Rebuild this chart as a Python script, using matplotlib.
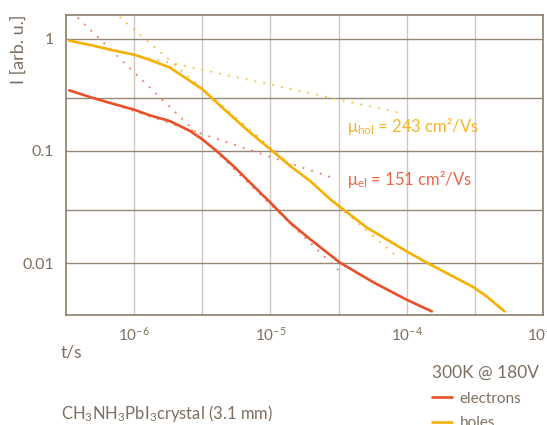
import numpy as np
import matplotlib.pyplot as plt

# Time-of-flight transient current, CH3NH3PbI3 crystal, log-log.

plt.rcParams['font.family'] = ['Lato', 'DejaVu Sans']
plt.rcParams['mathtext.fontset'] = 'custom'
plt.rcParams['mathtext.rm'] = 'Lato'
plt.rcParams['mathtext.it'] = 'Lato:italic'
plt.rcParams['mathtext.bf'] = 'Lato:bold'

# measured curves (t in s, I in arb. u.)
t_holes = [3.34e-7, 5.03e-7, 7.02e-7, 1.0e-6, 1.304e-6, 1.83e-6, 2.568e-6, 3.162e-6,
           4.035e-6, 5.343e-6, 7.09e-6, 1.0e-5, 1.396e-5, 1.958e-5, 2.748e-5,
           5.10e-5, 1.0e-4, 1.40e-4, 3.05e-4, 3.86e-4, 5.22e-4]
i_holes = [0.966, 0.871, 0.791, 0.724, 0.650, 0.555, 0.422, 0.356,
           0.271, 0.199, 0.146, 0.1035, 0.0735, 0.0540, 0.0370,
           0.0207, 0.0127, 0.0101, 0.00614, 0.00503, 0.00370]

t_el = [3.34e-7, 5.0e-7, 7.0e-7, 1.0e-6, 1.304e-6, 1.83e-6, 2.568e-6, 3.162e-6,
        4.035e-6, 5.343e-6, 7.09e-6, 1.0e-5, 1.396e-5, 1.958e-5, 3.23e-5, 5.69e-5,
        1.0e-4, 1.53e-4]
i_el = [0.348, 0.297, 0.264, 0.234, 0.208, 0.185, 0.151, 0.127,
        0.100, 0.0735, 0.0522, 0.0346, 0.0229, 0.0163, 0.0101, 0.00673,
        0.0047, 0.0037]

# tangent fits (start / end points)
t_hol_fast = [7.80e-7, 8.89e-5]
i_hol_fast = [1.57, 0.01086]
t_hol_slow = [3.34e-7, 8.59e-5]
i_hol_slow = [0.966, 0.221]
t_el_fast = [3.85e-7, 3.23e-5]
i_el_fast = [1.55, 0.0084]
t_el_slow = [5.36e-7, 3.05e-5]
i_el_slow = [0.293, 0.0562]

x_ticks = [1e-6, 1e-5, 1e-4, 1e-3]
x_labels = [r'$\mathregular{10^{-6}}$', r'$\mathregular{10^{-5}}$',
            r'$\mathregular{10^{-4}}$', r'$\mathregular{10^{-3}}$']
y_ticks = [1, 0.1, 0.01]
y_labels = ['1', '0.1', '0.01']
x_grid = [1e-6, 10**-5.5, 1e-5, 10**-4.5, 1e-4, 10**-3.5]
y_grid = [1, 0.3, 0.1, 0.03, 0.01]

c_holes = '#f5b000'
c_el = '#e8502a'
c_text = '#7d7062'
c_frame = '#8a7d6c'

fig = plt.figure(figsize=(5.47, 4.25), dpi=100)
ax = fig.add_axes([66 / 547, 1 - 315 / 425, 477 / 547, 300 / 425])
ax.set_xscale('log')
ax.set_yscale('log')
ax.set_xlim(10**-6.5, 1e-3)
ax.set_ylim(10**-2.464, 10**0.214)

for g in x_grid:
    ax.axvline(g, color='#cfc7bd', lw=1.0, zorder=0)
for g in y_grid:
    ax.axhline(g, color='#948878', lw=1.0, zorder=0)

ax.plot(t_hol_fast, i_hol_fast, color='#f5c03a', lw=1.3, ls=(0, (1, 4)))
ax.plot(t_hol_slow, i_hol_slow, color='#f5c03a', lw=1.3, ls=(0, (1, 4)))
ax.plot(t_el_fast, i_el_fast, color='#ef7a5e', lw=1.3, ls=(0, (1, 4)))
ax.plot(t_el_slow, i_el_slow, color='#ef7a5e', lw=1.3, ls=(0, (1, 4)))

l_el, = ax.plot(t_el, i_el, color=c_el, lw=1.9, solid_capstyle='round',
                solid_joinstyle='round')
l_ho, = ax.plot(t_holes, i_holes, color=c_holes, lw=1.9, solid_capstyle='round',
                solid_joinstyle='round')

ax.text(3.62e-5, 0.147, r'$\mathregular{\mu_{hol}}$ = 243 cm²/Vs', color='#f5b527',
        fontsize=12, va='baseline')
ax.text(3.62e-5, 0.0494, r'$\mathregular{\mu_{el}}$ = 151 cm²/Vs', color='#ec6546',
        fontsize=12, va='baseline')

ax.set_xticks(x_ticks)
ax.set_xticklabels(x_labels)
ax.set_yticks(y_ticks)
ax.set_yticklabels(y_labels)
ax.minorticks_off()
ax.tick_params(length=0, colors=c_text)
ax.tick_params(axis='x', pad=8, labelsize=11)
ax.tick_params(axis='y', pad=8.5, labelsize=11.5)
for s in ax.spines.values():
    s.set_color(c_frame)
    s.set_linewidth(1.2)

fig.text(19 / 547, 1 - 49 / 425, 'I [arb. u.]', rotation=90, color=c_text,
         fontsize=13, ha='center', va='center')
fig.text(61 / 547, 1 - 353 / 425, 't/s', color=c_text, fontsize=12.5, va='center')
fig.text(61 / 547, 1 - 414 / 425,
         r'CH$_\mathregular{3}$NH$_\mathregular{3}$PbI$_\mathregular{3}$crystal (3.1 mm)',
         color=c_text, fontsize=12, va='center')

leg = fig.legend([l_el, l_ho], ['electrons', 'holes'], title='300K @ 180V',
                 loc='upper left', bbox_to_anchor=(432 / 547, 1 - 365 / 425),
                 frameon=False, fontsize=11, title_fontsize=12.5,
                 alignment='left', handlelength=1.3, handletextpad=0.5,
                 labelspacing=0.7, borderpad=0, borderaxespad=0)
for txt in leg.get_texts():
    txt.set_color(c_text)
leg.get_title().set_color(c_text)

fig.savefig('out.png', dpi=100)
